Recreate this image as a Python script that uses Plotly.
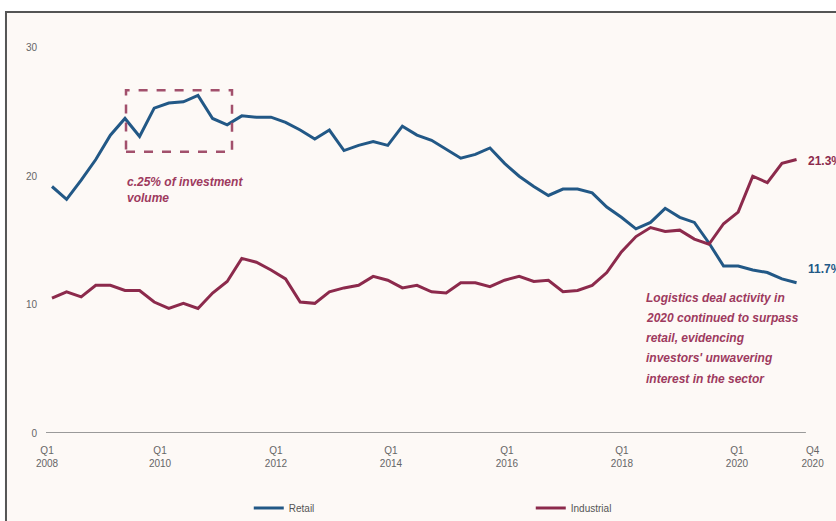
import plotly.graph_objects as go

quarters = list(range(52))  # Q1 2008 .. Q4 2020

retail = [19.2, 18.2, 19.7, 21.3, 23.2, 24.5, 23.1, 25.3, 25.7, 25.8,
          26.3, 24.5, 24.0, 24.7, 24.6, 24.6, 24.2, 23.6, 22.9, 23.6,
          22.0, 22.4, 22.7, 22.4, 23.9, 23.2, 22.8, 22.1, 21.4, 21.7,
          22.2, 21.0, 20.0, 19.2, 18.5, 19.0, 19.0, 18.7, 17.6, 16.8,
          15.9, 16.4, 17.5, 16.8, 16.4, 14.8, 13.0, 13.0, 12.7, 12.5,
          12.0, 11.7]

industrial = [10.5, 11.0, 10.6, 11.5, 11.5, 11.1, 11.1, 10.2, 9.7, 10.1,
              9.7, 10.9, 11.8, 13.6, 13.3, 12.7, 12.0, 10.2, 10.1, 11.0,
              11.3, 11.5, 12.2, 11.9, 11.3, 11.5, 11.0, 10.9, 11.7, 11.7,
              11.4, 11.9, 12.2, 11.8, 11.9, 11.0, 11.1, 11.5, 12.5, 14.1,
              15.3, 16.0, 15.7, 15.8, 15.1, 14.7, 16.3, 17.2, 20.0, 19.5,
              21.0, 21.3]

tick_labels = ["Q1<br>2008", "Q1<br>2010", "Q1<br>2012", "Q1<br>2014",
               "Q1<br>2016", "Q1<br>2018", "Q1<br>2020", "Q4<br>2020"]
tick_pos = [-0.34, 7.40, 15.34, 23.22, 31.16, 39.04, 46.92, 52.1]

BLUE = "#225886"
MAROON = "#8C2A4C"
NOTE = "#9E3A5E"
GREY = "#666666"
FONT = "Liberation Sans Narrow, Liberation Sans, Arial, sans-serif"
NOTEFONT = "Liberation Sans, Arial, sans-serif"

fig = go.Figure()
fig.add_trace(go.Scatter(x=quarters, y=retail, mode="lines", name="Retail",
                         line=dict(color=BLUE, width=3)))
fig.add_trace(go.Scatter(x=quarters, y=industrial, mode="lines", name="Industrial",
                         line=dict(color=MAROON, width=3)))

# frame / background
fig.add_shape(type="rect", xref="paper", yref="paper",
              x0=-0.0519, x1=1.2, y0=-0.4, y1=1.0578,
              line=dict(color="#555555", width=2), fillcolor="#FDF9F6",
              layer="below")
# x axis baseline
fig.add_shape(type="line", xref="x", yref="y", x0=-0.41, x1=51.64, y0=0, y1=0,
              line=dict(color="#9A9A9A", width=2), layer="below")
# dashed highlight box
fig.add_shape(type="rect", xref="x", yref="y", x0=5.07, x1=12.33, y0=21.9, y1=26.7,
              line=dict(color="#A2506C", width=2.5, dash="dash"))

fig.add_annotation(x=5.0, y=20.25, xref="x", yref="y", xanchor="left", yanchor="top",
                   text="<b><i>c.25% of investment<br>volume</i></b>", showarrow=False,
                   align="left", font=dict(family=NOTEFONT, size=12, color=NOTE))

note_lines = ["Logistics deal activity in", "2020 continued to surpass",
              "retail, evidencing", "investors' unwavering", "interest in the sector"]
note_y = [10.52, 8.96, 7.40, 5.84, 4.21]
for t, yy in zip(note_lines, note_y):
    fig.add_annotation(x=40.55, y=yy, xref="x", yref="y", xanchor="left", yanchor="middle",
                       text="<b><i>" + t + "</i></b>", showarrow=False,
                       font=dict(family=NOTEFONT, size=12, color=NOTE))

fig.add_annotation(x=51.65, y=21.2, xref="x", yref="y", xanchor="left", yanchor="middle",
                   text="<b>21.3%</b>", showarrow=False,
                   font=dict(family=NOTEFONT, size=12, color=MAROON))
fig.add_annotation(x=51.65, y=12.8, xref="x", yref="y", xanchor="left", yanchor="middle",
                   text="<b>11.7%</b>", showarrow=False,
                   font=dict(family=NOTEFONT, size=12, color=BLUE))

fig.update_layout(
    width=836, height=521,
    margin=dict(l=46, r=19, t=35, b=88),
    paper_bgcolor="white", plot_bgcolor="rgba(0,0,0,0)",
    showlegend=True,
    legend=dict(orientation="h", x=0.263, y=0.025, xref="paper", yref="container",
                xanchor="left", yanchor="middle",
                entrywidth=237, entrywidthmode="pixels", bgcolor="rgba(0,0,0,0)",
                font=dict(family=FONT, size=10, color="#555555")),
    xaxis=dict(range=[-0.41, 52.4], showgrid=False, zeroline=False, showline=False,
               tickmode="array", tickvals=tick_pos, ticktext=tick_labels,
               ticks="", ticklabelstandoff=10, automargin=False,
               tickfont=dict(family=FONT, size=10, color=GREY)),
    yaxis=dict(range=[0, 31], showgrid=False, zeroline=False, showline=False,
               tickvals=[0, 10, 20, 30], ticks="", ticklabelstandoff=8, automargin=False,
               tickfont=dict(family=FONT, size=10, color=GREY)),
)

fig.write_html("out.html", config={"displayModeBar": False},
               post_script="document.body.style.margin='0';document.body.style.overflow='hidden';")
